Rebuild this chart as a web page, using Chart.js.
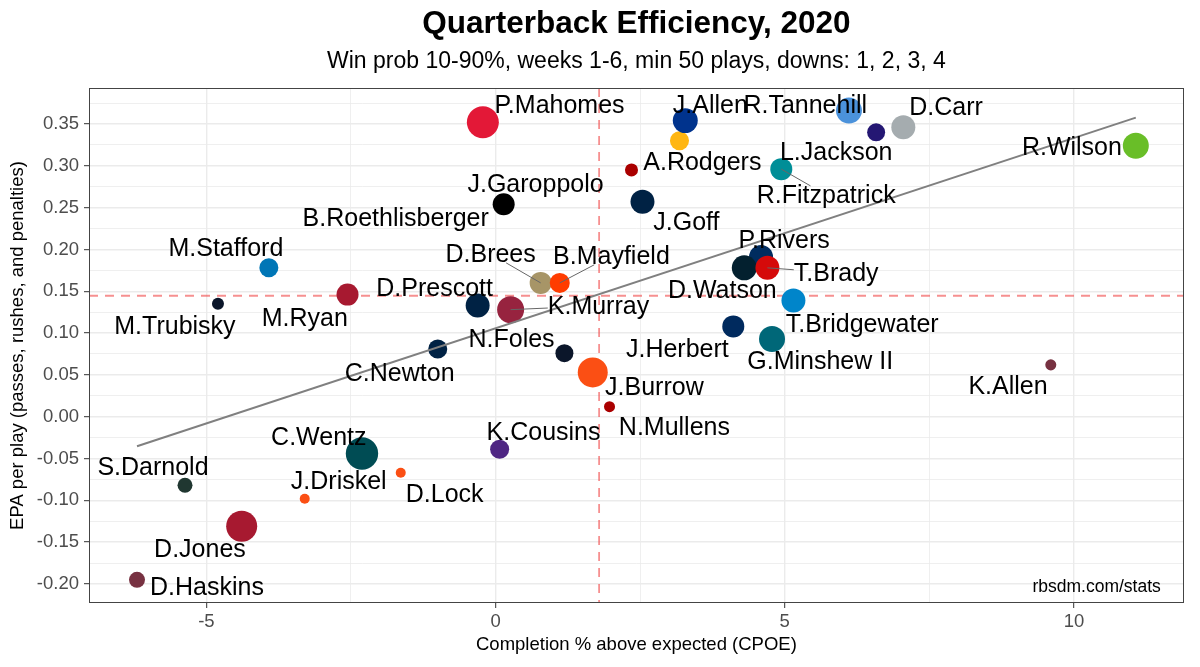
<!DOCTYPE html>
<html>
<head>
<meta charset="utf-8">
<script src="https://cdn.jsdelivr.net/npm/chart.js@4.4.1/dist/chart.umd.min.js"></script>
<style>
  html, body { margin: 0; padding: 0; background: #fff; }
  #wrap { width: 1200px; height: 667px; }
</style>
</head>
<body>
<div id="wrap"><canvas id="qbChart" width="1200" height="667"></canvas></div>
<script>
// quarterback data (weeks 1-6, 2020)
const players = ['P.Mahomes', 'A.Rodgers', 'J.Allen', 'J.Garoppolo', 'R.Tannehill', 'L.Jackson', 'D.Carr',
  'R.Wilson', 'R.Fitzpatrick', 'B.Roethlisberger', 'J.Goff', 'M.Stafford', 'D.Brees', 'B.Mayfield',
  'P.Rivers', 'D.Watson', 'T.Brady', 'T.Bridgewater', 'D.Prescott', 'K.Murray', 'M.Trubisky', 'M.Ryan',
  'N.Foles', 'C.Newton', 'J.Herbert', 'G.Minshew II', 'J.Burrow', 'K.Allen', 'N.Mullens', 'K.Cousins',
  'C.Wentz', 'S.Darnold', 'J.Driskel', 'D.Lock', 'D.Jones', 'D.Haskins'];
const cpoe = [-0.22, 3.18, 3.28, 2.35, 6.11, 6.58, 7.05,
  11.07, 4.94, 0.14, 2.54, -3.92, 0.78, 1.11,
  4.59, 4.30, 4.70, 5.15, -0.31, 0.26, -4.80, -2.56,
  1.19, -1.00, 4.11, 4.78, 1.68, 9.60, 1.97, 0.07,
  -2.31, -5.37, -3.30, -1.64, -4.39, -6.20];
const epa = [0.352, 0.330, 0.354, 0.295, 0.366, 0.340, 0.346,
  0.324, 0.296, 0.254, 0.257, 0.178, 0.160, 0.160,
  0.191, 0.178, 0.178, 0.139, 0.133, 0.128, 0.135, 0.146,
  0.076, 0.081, 0.108, 0.093, 0.053, 0.062, 0.012, -0.039,
  -0.044, -0.082, -0.098, -0.067, -0.131, -0.195];
const plays = [299, 136, 203, 82, 216, 126, 191,
  216, 168, 168, 191, 136, 168, 146,
  191, 203, 191, 191, 191, 229, 74, 168,
  126, 136, 168, 216, 270, 67, 67, 136,
  305, 98, 60, 60, 285, 107];
const teamColors = ['#E31837', '#FFB612', '#00338D', '#AA0000', '#4B92DB', '#241773', '#A5ACAF',
  '#69BE28', '#008E97', '#000000', '#002244', '#0076B6', '#A79567', '#FF3C00',
  '#002C5F', '#03202F', '#D50A0A', '#0085CA', '#002244', '#97233F', '#0B162A', '#A71930',
  '#0B162A', '#002244', '#002A5E', '#006778', '#FB4F14', '#773141', '#AA0000', '#4F2683',
  '#004C54', '#203731', '#FB4F14', '#FB4F14', '#A71930', '#773141'];

// where each name sits (data units), as placed by the repel layout
const labelX = [1.105, 3.575, 3.713, 0.691, 5.354, 5.889, 7.789,
  9.965, 5.717, -1.727, 3.299, -4.663, -0.086, 2.003,
  4.991, 3.921, 5.889, 6.339, -1.054, 1.779, -5.544, -3.299,
  0.276, -1.658, 3.143, 5.613, 2.746, 8.860, 3.092, 0.829,
  -3.057, -5.924, -2.712, -0.881, -5.112, -4.991];
const labelY = [0.3728, 0.3047, 0.3728, 0.2784, 0.3728, 0.3166, 0.3704,
  0.3226, 0.2652, 0.2378, 0.2330, 0.2019, 0.1947, 0.1924,
  0.2115, 0.1517, 0.1720, 0.1111, 0.1541, 0.1326, 0.1087, 0.1183,
  0.0932, 0.0526, 0.0812, 0.0669, 0.0358, 0.0370, -0.0119, -0.0179,
  -0.0239, -0.0597, -0.0765, -0.0920, -0.1577, -0.2031];
const linkedLabels = ['D.Brees', 'B.Mayfield', 'K.Murray', 'R.Fitzpatrick', 'T.Brady'];

const meanCpoe = 1.79;
const meanEpa = 0.1446;

const xTicks = [-5, -2.5, 0, 2.5, 5, 7.5, 10];
const yTicks = [-0.2, -0.175, -0.15, -0.125, -0.1, -0.075, -0.05, -0.025, 0, 0.025, 0.05, 0.075,
  0.1, 0.125, 0.15, 0.175, 0.2, 0.225, 0.25, 0.275, 0.3, 0.325, 0.35, 0.375];

const FONT = '"Liberation Sans", Arial, Helvetica, sans-serif';

function isMajor(v, step) {
  const r = v / step;
  return Math.abs(r - Math.round(r)) < 1e-6;
}

function radiusFor(n) {
  return 1.15 * Math.sqrt(n) - 3.9;
}

// least squares fit over the observed range
function fitLine() {
  const n = cpoe.length;
  const mx = cpoe.reduce((a, b) => a + b, 0) / n;
  const my = epa.reduce((a, b) => a + b, 0) / n;
  let sxy = 0, sxx = 0;
  for (let i = 0; i < n; i++) {
    sxy += (cpoe[i] - mx) * (epa[i] - my);
    sxx += (cpoe[i] - mx) * (cpoe[i] - mx);
  }
  const b = sxy / sxx;
  const lo = Math.min(...cpoe), hi = Math.max(...cpoe);
  return [{ x: lo, y: my + b * (lo - mx) }, { x: hi, y: my + b * (hi - mx) }];
}

const refLines = {
  id: 'refLines',
  beforeDatasetsDraw(chart) {
    const { ctx, chartArea: a, scales: { x, y } } = chart;
    ctx.save();
    ctx.strokeStyle = 'rgba(240,70,70,0.6)';
    ctx.lineWidth = 1.8;
    ctx.setLineDash([9, 7]);
    const px = x.getPixelForValue(meanCpoe);
    const py = y.getPixelForValue(meanEpa);
    ctx.beginPath();
    ctx.moveTo(px, a.top);
    ctx.lineTo(px, a.bottom);
    ctx.moveTo(a.left, py);
    ctx.lineTo(a.right, py);
    ctx.stroke();
    ctx.restore();
  }
};

const nameLabels = {
  id: 'nameLabels',
  afterDatasetsDraw(chart) {
    const { ctx, chartArea: a, scales: { x, y } } = chart;
    ctx.save();
    ctx.font = '25px ' + FONT;
    ctx.textAlign = 'center';
    ctx.textBaseline = 'middle';
    players.forEach((name, i) => {
      const lx = x.getPixelForValue(labelX[i]);
      const ly = y.getPixelForValue(labelY[i]);
      if (linkedLabels.includes(name)) {
        const px = x.getPixelForValue(cpoe[i]);
        const py = y.getPixelForValue(epa[i]);
        const hw = ctx.measureText(name).width / 2;
        const hh = 9;
        const dx = px - lx, dy = py - ly;
        const t = Math.min(dx ? hw / Math.abs(dx) : 9e9, dy ? hh / Math.abs(dy) : 9e9);
        ctx.strokeStyle = '#666666';
        ctx.lineWidth = 1;
        ctx.beginPath();
        ctx.moveTo(lx + dx * t, ly + dy * t);
        ctx.lineTo(px, py);
        ctx.stroke();
      }
    });
    ctx.fillStyle = '#000000';
    players.forEach((name, i) => {
      ctx.fillText(name, x.getPixelForValue(labelX[i]), y.getPixelForValue(labelY[i]) + 1.5);
    });

    // caption
    ctx.font = '17.5px ' + FONT;
    ctx.textAlign = 'right';
    ctx.fillText('rbsdm.com/stats', a.right - 23, a.bottom - 16);

    // panel border
    ctx.strokeStyle = '#444444';
    ctx.lineWidth = 1;
    ctx.strokeRect(Math.round(a.left) + 0.5, Math.round(a.top) + 0.5,
      Math.round(a.right - a.left) - 1, Math.round(a.bottom - a.top) - 1);
    ctx.restore();
  }
};

const titles = {
  id: 'titles',
  afterDraw(chart) {
    const { ctx, chartArea: a } = chart;
    const cx = (a.left + a.right) / 2;
    const cy = (a.top + a.bottom) / 2;
    ctx.save();
    ctx.fillStyle = '#000000';
    ctx.textAlign = 'center';
    ctx.textBaseline = 'middle';
    ctx.font = 'bold 31.5px ' + FONT;
    ctx.fillText('Quarterback Efficiency, 2020', cx, 24);
    ctx.font = '23px ' + FONT;
    ctx.fillText('Win prob 10-90%, weeks 1-6, min 50 plays, downs: 1, 2, 3, 4', cx, 62);
    ctx.font = '18.5px ' + FONT;
    ctx.fillText('Completion % above expected (CPOE)', cx, 645);
    ctx.translate(18, cy);
    ctx.rotate(-Math.PI / 2);
    ctx.fillText('EPA per play (passes, rushes, and penalties)', 0, 0);
    ctx.restore();
  }
};

const ctx = document.getElementById('qbChart');

new Chart(ctx, {
  data: {
    datasets: [{
      type: 'line',
      data: fitLine(),
      borderColor: '#808080',
      borderWidth: 2,
      pointRadius: 0,
      fill: false,
      order: 0
    }, {
      type: 'scatter',
      data: players.map((p, i) => ({ x: cpoe[i], y: epa[i] })),
      pointRadius: plays.map(radiusFor),
      pointHoverRadius: plays.map(radiusFor),
      backgroundColor: teamColors,
      borderWidth: 0,
      order: 1
    }]
  },
  options: {
    responsive: false,
    animation: false,
    devicePixelRatio: 1,
    layout: { padding: { top: 88, right: 9, left: 0, bottom: 0 } },
    plugins: {
      legend: { display: false },
      tooltip: { enabled: false }
    },
    scales: {
      x: {
        type: 'linear',
        min: -7.03,
        max: 11.9,
        afterBuildTicks: s => { s.ticks = xTicks.map(v => ({ value: v })); },
        afterFit: s => { s.height = 64; },
        ticks: {
          autoSkip: false,
          maxRotation: 0,
          padding: 3,
          color: '#4D4D4D',
          font: { family: FONT, size: 18.5 },
          callback: v => isMajor(v, 5) ? String(v) : ''
        },
        grid: {
          color: c => '#EBEBEB',
          lineWidth: c => (c.tick && isMajor(c.tick.value, 5)) ? 1.4 : 0.8,
          tickLength: 5,
          tickWidth: 1,
          tickColor: c => (c.tick && isMajor(c.tick.value, 5)) ? '#333333' : 'rgba(0,0,0,0)'
        },
        border: { display: false }
      },
      y: {
        type: 'linear',
        min: -0.2227,
        max: 0.393,
        afterBuildTicks: s => { s.ticks = yTicks.map(v => ({ value: v })); },
        afterFit: s => { s.width = 89; },
        ticks: {
          autoSkip: false,
          padding: 5,
          color: '#4D4D4D',
          font: { family: FONT, size: 18.5 },
          callback: v => isMajor(v, 0.05) ? v.toFixed(2) : ''
        },
        grid: {
          color: c => '#EBEBEB',
          lineWidth: c => (c.tick && isMajor(c.tick.value, 0.05)) ? 1.4 : 0.8,
          tickLength: 5,
          tickWidth: 1,
          tickColor: c => (c.tick && isMajor(c.tick.value, 0.05)) ? '#333333' : 'rgba(0,0,0,0)'
        },
        border: { display: false }
      }
    }
  },
  plugins: [refLines, nameLabels, titles]
});
</script>
</body>
</html>
